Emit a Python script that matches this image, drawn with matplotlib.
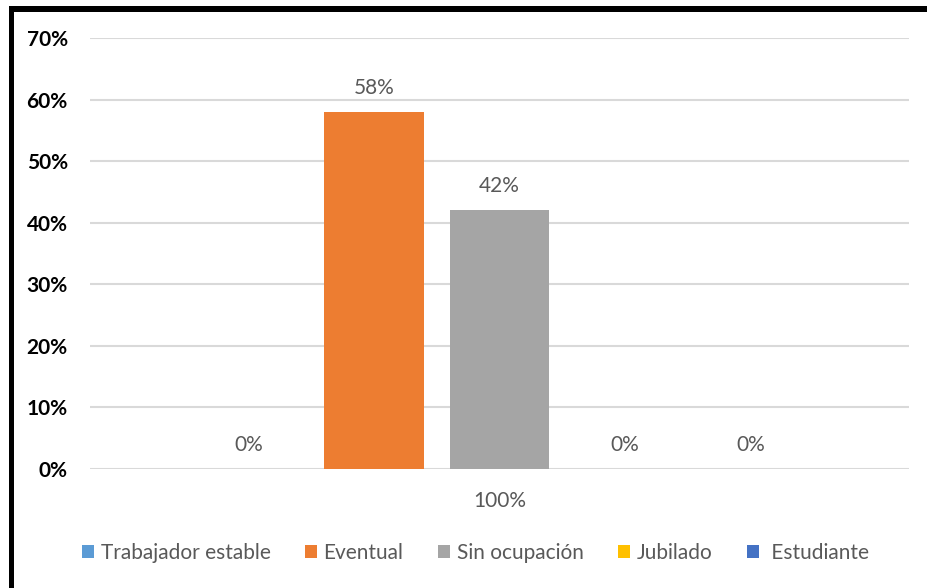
import numpy as np
import matplotlib.pyplot as plt
from matplotlib.patches import Rectangle, Patch

categories = ['100%']
series = ['Trabajador estable', 'Eventual', 'Sin ocupación', 'Jubilado', ' Estudiante']
values = [0.00, 0.58, 0.42, 0.00, 0.00]
labels = ['0%', '58%', '42%', '0%', '0%']
colors = ['#5B9BD5', '#ED7D31', '#A5A5A5', '#FFC000', '#4472C4']
yticks = [0.0, 0.1, 0.2, 0.3, 0.4, 0.5, 0.6, 0.7]

plt.rcParams['font.family'] = ['Lato', 'DejaVu Sans']

fig = plt.figure(figsize=(9.28, 5.88), dpi=100)
ax = fig.add_axes([0.097, 0.2024, 0.8825, 0.733])

step = 0.1532
width = 0.122
offsets = (np.arange(len(series)) - 2) * step
x = np.arange(len(categories))

for i, name in enumerate(series):
    ax.bar(x + offsets[i], [values[i]], width=width, color=colors[i], label=name, zorder=3)
    ax.annotate(labels[i], (x[0] + offsets[i], values[i]), xytext=(0, 10),
                textcoords='offset points', ha='center', va='bottom',
                fontsize=15, color='#595959')

ax.set_xlim(-0.5, 0.5)
ax.set_ylim(0, 0.7)
ax.set_yticks(yticks)
ax.set_yticklabels([f'{int(round(t * 100))}%' for t in yticks], fontsize=15, fontweight='bold', color='black')
ax.set_xticks(x)
ax.set_xticklabels(categories, fontsize=15, color='#595959')
ax.tick_params(axis='y', length=0, pad=16)
ax.tick_params(axis='x', length=0, pad=16)
ax.grid(axis='y', color='#D9D9D9', linewidth=1.5, zorder=0)
for s in ax.spines.values():
    s.set_visible(False)

handles = [Patch(facecolor=c, label=n) for c, n in zip(colors, series)]
fig.legend(handles=handles, loc='center', bbox_to_anchor=(0.512, 0.06), ncol=5,
           frameon=False, fontsize=15, labelcolor='#595959',
           handlelength=0.6, handleheight=0.6, handletextpad=0.3, columnspacing=1.65)

# thick black frame on top and left
fig.add_artist(Rectangle((9 / 928, 1 - 12 / 588), 1, 6 / 588, transform=fig.transFigure,
                         color='black', lw=0))
fig.add_artist(Rectangle((9 / 928, 0), 5 / 928, 1 - 6 / 588, transform=fig.transFigure,
                         color='black', lw=0))

fig.savefig('out.png', dpi=100)
